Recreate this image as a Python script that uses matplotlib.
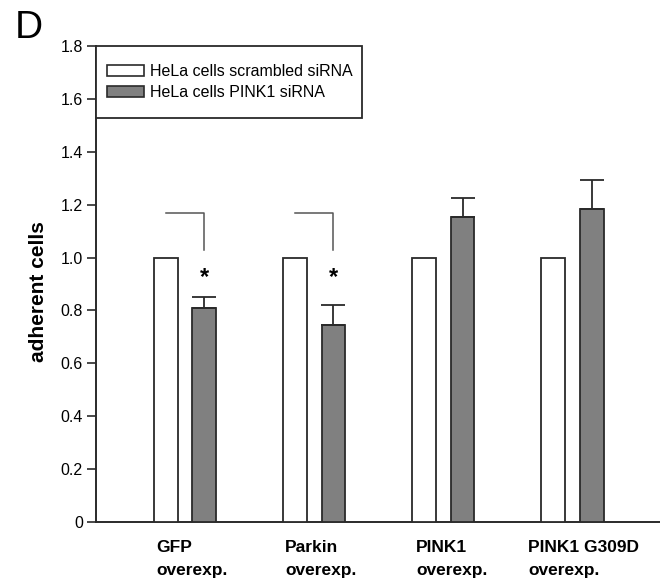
import matplotlib
matplotlib.use("Agg")
import matplotlib.pyplot as plt
import numpy as np
from matplotlib.patches import Patch, Rectangle

plt.rcParams['font.family'] = ['Liberation Sans', 'DejaVu Sans']

categories = ["GFP\noverexp.", "Parkin\noverexp.", "PINK1\noverexp.", "PINK1 G309D\noverexp."]
scrambled = [1.0, 1.0, 1.0, 1.0]
pink1_sirna = [0.81, 0.745, 1.155, 1.185]
pink1_err = [0.04, 0.077, 0.072, 0.11]
series_names = ["HeLa cells scrambled siRNA", "HeLa cells PINK1 siRNA"]
yticks = [0, 0.2, 0.4, 0.6, 0.8, 1.0, 1.2, 1.4, 1.6, 1.8]
ytick_labels = ["0", "0.2", "0.4", "0.6", "0.8", "1.0", "1.2", "1.4", "1.6", "1.8"]
significant = [True, True, False, False]

fig = plt.figure(figsize=(6.6, 5.84), dpi=100)
ax = fig.add_axes([96/660, 1 - 522/584, 1 - 96/660, (522 - 46)/584])

x = np.arange(len(categories))
w = 0.185
off = 0.15
edge = '#2a2a2a'
ax.bar(x - off, scrambled, w, color='white', edgecolor=edge, linewidth=1.3, zorder=3)
ax.bar(x + off, pink1_sirna, w, color='#808080', edgecolor=edge, linewidth=1.3, zorder=3)
ax.errorbar(x + off, pink1_sirna, yerr=[np.zeros(len(x)), pink1_err], fmt='none',
            ecolor=edge, elinewidth=1.3, capsize=8.5, capthick=1.3, zorder=4)

for i, s in enumerate(significant):
    if s:
        ax.plot([x[i] - 0.15, x[i] + off, x[i] + off], [1.17, 1.17, 1.027],
                color='#555555', lw=1.1, zorder=3)
        ax.text(x[i] + off, 0.925, "*", ha='center', va='center', fontsize=17,
                fontweight='bold')

ax.set_xlim(-0.69, 3.68)
ax.set_ylim(0, 1.8)
ax.set_yticks(yticks)
ax.set_yticklabels(ytick_labels, fontsize=11.5)
ax.set_xticks([])
ax.tick_params(axis='y', direction='out', length=6.5, width=1.2, color=edge, pad=3)
for s in ['top', 'right']:
    ax.spines[s].set_visible(False)
for s in ['left', 'bottom']:
    ax.spines[s].set_linewidth(1.4)
    ax.spines[s].set_color(edge)

label_x = [-0.225, 0.774, 1.789, 2.657]
for lx, lab in zip(label_x, categories):
    l1, l2 = lab.split("\n")
    ax.text(lx, -0.1136, l1, ha='left', va='baseline', fontsize=12.5, fontweight='bold')
    ax.text(lx, -0.2008, l2, ha='left', va='baseline', fontsize=12.5, fontweight='bold')

fig.text(38/660, 1 - 292/584, "adherent cells", rotation=90, ha='center', va='center',
         fontsize=15, fontweight='bold')

# legend box
box_w = (362 - 96) / 564
box_y = (522 - 118) / 476
ax.add_patch(Rectangle((0, box_y), box_w, 1 - box_y, transform=ax.transAxes,
                       facecolor='white', edgecolor=edge, linewidth=1.3, zorder=5,
                       clip_on=False))
handles = [Patch(facecolor='white', edgecolor=edge, linewidth=1.2),
           Patch(facecolor='#808080', edgecolor=edge, linewidth=1.2)]
leg = ax.legend(handles, series_names, loc='center left',
                bbox_to_anchor=(0, box_y, box_w, 1 - box_y),
                fontsize=11.5, frameon=False, borderaxespad=0,
                handlelength=2.3, handleheight=0.65, handletextpad=0.4,
                borderpad=0.7, labelspacing=0.4)
leg.set_zorder(6)

fig.text(15/660, 1 - 28/584, "D", fontsize=28, va='center', ha='left')

fig.savefig("out.png", dpi=100)
